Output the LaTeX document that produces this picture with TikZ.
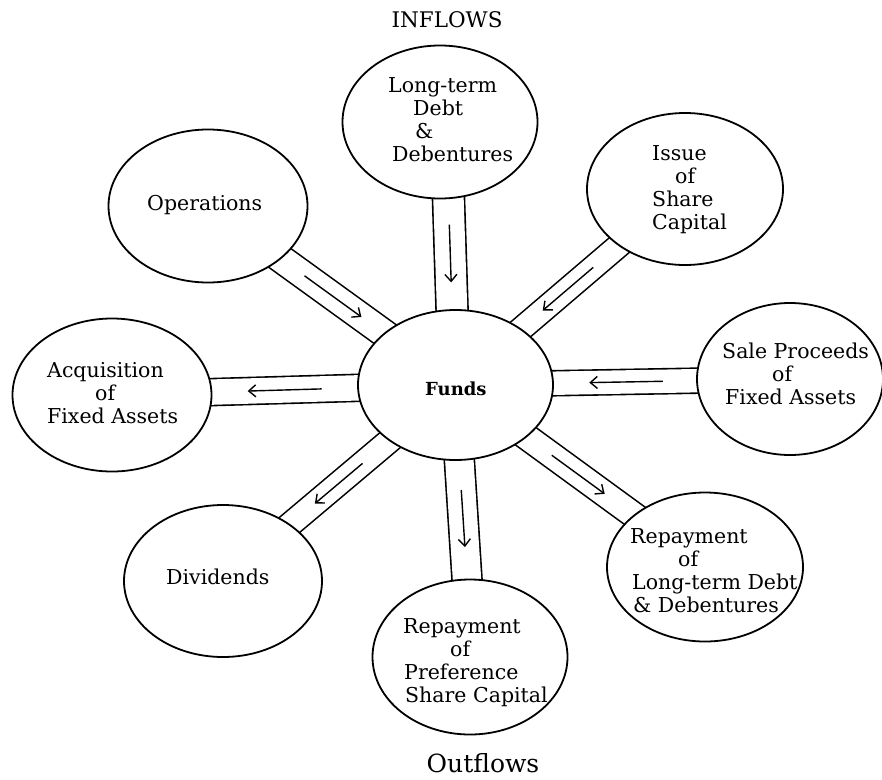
\documentclass[tikz,border=0pt]{standalone}
\usepackage{fontspec}
\setmainfont{DejaVu Serif}
\usetikzlibrary{shapes.geometric,arrows.meta,backgrounds,calc}
\begin{document}
\begin{tikzpicture}[x=1pt,y=-1pt,
  blob/.style={ellipse,draw,line width=1.8pt,fill=white,inner sep=0pt},
  band/.style={line width=1.6pt,double=white,double distance=#1},
  band/.default=24pt,
  flow/.style={line width=1.4pt,-{Straight Barb[length=7pt,width=12pt,line width=1.4pt]}},
  lbl/.style={anchor=base west,inner sep=0pt,font=\fontsize{20.5}{23}\selectfont}
]
\useasboundingbox (0,0) rectangle (882,779);

% ellipses
\node[blob,minimum width=195pt,minimum height=150pt] (funds) at (455.5,385) {};
\node[blob,minimum width=195pt,minimum height=153pt] (ltd) at (440,122) {};
\node[blob,minimum width=199pt,minimum height=153pt] (ops) at (208,206) {};
\node[blob,minimum width=196pt,minimum height=152pt] (issue) at (685,189) {};
\node[blob,minimum width=186pt,minimum height=152pt] (sale) at (790,379) {};
\node[blob,minimum width=199pt,minimum height=153pt] (acq) at (112,395) {};
\node[blob,minimum width=198pt,minimum height=152pt] (div) at (223,581) {};
\node[blob,minimum width=195pt,minimum height=155pt] (pref) at (470,657) {};
\node[blob,minimum width=196pt,minimum height=149pt] (rltd) at (705,567) {};

% shifted ends for the vertical bands
\coordinate (ltdA) at ($(ltd.center)+(6,0)$);
\coordinate (fundsA) at ($(funds.center)+(-1,0)$);
\coordinate (prefA) at ($(pref.center)+(2,0)$);

% white page and bands (behind the ellipses)
\begin{scope}[on background layer]
  \fill[white] (0,0) rectangle (882,779);
  \draw[band=30.4pt] (ltdA) -- (fundsA);
  \draw[band=26.4pt] (ops.center) -- (funds.center);
  \draw[band=22.4pt] (issue.center) -- (funds.center);
  \draw[band=23.4pt] (sale.center) -- (funds.center);
  \draw[band=25.4pt] (funds.center) -- (acq.center);
  \draw[band=22.8pt] (funds.center) -- (div.center);
  \draw[band=28.4pt] (fundsA) -- (prefA);
  \draw[band=24.4pt] (funds.center) -- (rltd.center);
\end{scope}

% arrows inside the bands
\draw[flow] ($(ltdA)!0.39!(fundsA)$) -- ($(ltdA)!0.61!(fundsA)$);
\draw[flow] ($(ops.center)!0.39!(funds.center)$) -- ($(ops.center)!0.62!(funds.center)$);
\draw[flow] ($(issue.center)!0.40!(funds.center)$) -- ($(issue.center)!0.62!(funds.center)$);
\draw[flow] ($(sale.center)!0.38!(funds.center)$) -- ($(sale.center)!0.60!(funds.center)$);
\draw[flow] ($(funds.center)!0.39!(acq.center)$) -- ($(funds.center)!0.605!(acq.center)$);
\draw[flow] ($(funds.center)!0.40!(div.center)$) -- ($(funds.center)!0.605!(div.center)$);
\draw[flow] ($(fundsA)!0.386!(prefA)$) -- ($(fundsA)!0.596!(prefA)$);
\draw[flow] ($(funds.center)!0.386!(rltd.center)$) -- ($(funds.center)!0.598!(rltd.center)$);

% texts
\node[anchor=base,inner sep=0pt,font=\fontsize{21.5}{24}\selectfont] (inflows) at (447,27) {INFLOWS};
\node[anchor=base,inner sep=0pt,font=\fontsize{25}{28}\selectfont] (outflows) at (483,772) {Outflows};
\node[anchor=base west,inner sep=0pt,font=\bfseries\fontsize{18}{20}\selectfont] (fundstxt) at (425,395) {Funds};

\node[lbl] (ltd1) at (388,92) {Long-term};
\node[lbl] (ltd2) at (413,115) {Debt};
\node[lbl] (ltd3) at (415,138) {\&};
\node[lbl] (ltd4) at (392,161) {Debentures};

\node[lbl] (ops1) at (147,210) {Operations};

\node[lbl] (iss1) at (652,160) {Issue};
\node[lbl] (iss2) at (675,183) {of};
\node[lbl] (iss3) at (652,206) {Share};
\node[lbl] (iss4) at (652,229) {Capital};

\node[lbl] (sal1) at (722,358) {Sale Proceeds};
\node[lbl] (sal2) at (772,381) {of};
\node[lbl] (sal3) at (725,404) {Fixed Assets};

\node[lbl] (acq1) at (47,377) {Acquisition};
\node[lbl] (acq2) at (95,400) {of};
\node[lbl] (acq3) at (47,423) {Fixed Assets};

\node[lbl] (div1) at (166,584) {Dividends};

\node[lbl] (rep1) at (630,543) {Repayment};
\node[lbl] (rep2) at (678,566) {of};
\node[lbl] (rep3) at (632,589) {Long-term Debt};
\node[lbl] (rep4) at (633,612) {\& Debentures};

\node[lbl] (prf1) at (403,633) {Repayment};
\node[lbl] (prf2) at (450,656) {of};
\node[lbl] (prf3) at (404,679) {Preference};
\node[lbl] (prf4) at (405,702) {Share Capital};
\end{tikzpicture}
\end{document}
